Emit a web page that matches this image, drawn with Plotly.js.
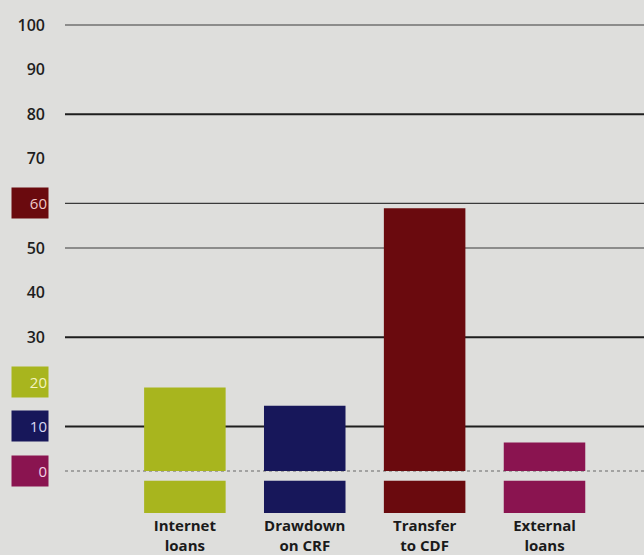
<!DOCTYPE html>
<html>
<head>
<meta charset="utf-8">
<script src="https://cdn.plot.ly/plotly-3.0.1.min.js"></script>
<style>html,body{margin:0;padding:0;background:#dededc;}#chart{width:644px;height:555px;}</style>
</head>
<body>
<div id="chart"></div>
<script>
// ---- data ----
const categories = ["Internet<br>loans", "Drawdown<br>on CRF", "Transfer<br>to CDF", "External<br>loans"];
const values = [18.7, 14.6, 58.9, 6.4];
const barColors = ["#a8b51e", "#17175a", "#6a0a0e", "#8a1450"];
const yTickVals = [0, 10, 20, 30, 40, 50, 60, 70, 80, 90, 100];
const yTickText = ["", "", "", "30", "40", "50", "", "70", "80", "90", "100"];
const gridVals = [10, 30, 50, 60, 80, 100];
const gridWidths = [2, 2, 1.2, 1.2, 2, 1.2];
const badgeVals = [60, 20, 10, 0];
const badgeText = ["60", "20", "10", "0"];
const badgeColors = ["#6a0a0e", "#a8b51e", "#17175a", "#8a1450"];
const badgeFont = ["#f0c8c8", "#f4f4c0", "#d8d8f4", "#f4d0e4"];

// ---- style ----
const chipBase = -9.4, chipHeight = 7.2;
const bg = "#dededc";

const traces = [
  {type: "bar", x: categories, y: values, marker: {color: barColors}, width: 0.68, hoverinfo: "skip"},
  {type: "bar", x: categories, y: values.map(() => chipHeight), base: chipBase,
   marker: {color: barColors}, width: 0.68, hoverinfo: "skip"}
];

const annotations = badgeVals.map((v, i) => ({
  xref: "paper", yref: "y", x: -0.0605, y: v, xanchor: "center", yanchor: "middle",
  text: badgeText[i], showarrow: false, bgcolor: badgeColors[i], width: 34, height: 28,
  align: "right", font: {family: "Open Sans", size: 15, color: badgeFont[i]}
}));

const shapes = gridVals.map((v, i) => ({
  type: "line", xref: "paper", x0: 0, x1: 1, yref: "y", y0: v, y1: v,
  line: {color: gridWidths[i] > 1.5 ? "#1e1e1e" : "#3a3a3a", width: gridWidths[i]}, layer: "below"
}));
shapes.push({type: "line", xref: "paper", x0: 0, x1: 1, yref: "y", y0: 0, y1: 0,
             line: {color: "#666", width: 1.2, dash: "dot"}, layer: "below"});

const layout = {
  width: 644, height: 555,
  margin: {l: 65, r: 0, t: 0, b: 40},
  paper_bgcolor: bg, plot_bgcolor: bg,
  showlegend: false, barmode: "overlay",
  xaxis: {range: [-1.0, 3.83], showgrid: false, zeroline: false, showline: false,
          tickfont: {family: "Open Sans", size: 15, color: "#1a1a1a", weight: "bold"},
          ticklabelstandoff: 0},
  yaxis: {range: [-9.87, 105.6], tickvals: yTickVals, ticktext: yTickText,
          showgrid: false, zeroline: false, ticklabelstandoff: 19,
          tickfont: {family: "Open Sans", size: 16, color: "#1e1e1e", weight: 600}},
  shapes: shapes,
  annotations: annotations
};

Plotly.newPlot("chart", traces, layout, {staticPlot: true});
</script>
</body>
</html>
